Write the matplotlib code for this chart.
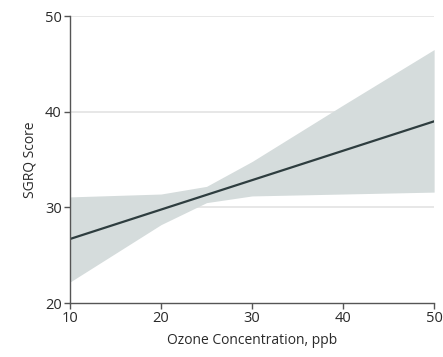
import matplotlib
matplotlib.use("Agg")
import matplotlib.pyplot as plt

ozone = [10, 50]
sgrq = [26.7, 39.0]
band_x = [10, 20, 25, 30, 40, 50]
band_upper = [31.1, 31.4, 32.2, 34.8, 40.7, 46.5]
band_lower = [22.2, 28.2, 30.5, 31.2, 31.4, 31.6]
xticks = [10, 20, 30, 40, 50]
yticks = [20, 30, 40, 50]

plt.rcParams['font.family'] = ['Open Sans', 'DejaVu Sans']
fig = plt.figure(figsize=(4.43, 3.57), dpi=100)
ax = fig.add_axes([0.158, 0.151, 0.822, 0.804])

for y in yticks[1:]:
    ax.axhline(y, color='#e3e3e3', lw=1.2, zorder=0)
ax.fill_between(band_x, band_lower, band_upper, color='#d5dcdc', lw=0, zorder=1)
ax.plot(ozone, sgrq, color='#2e3d3f', lw=1.6, zorder=2)

ax.set_xlim(10, 50)
ax.set_ylim(20, 50)
ax.set_xticks(xticks)
ax.set_yticks(yticks)
for s in ['top', 'right']:
    ax.spines[s].set_visible(False)
for s in ['left', 'bottom']:
    ax.spines[s].set_color('#555555')
    ax.spines[s].set_linewidth(1.0)
ax.tick_params(direction='out', length=4, width=1.0, color='#555555',
               labelsize=10.5, labelcolor='#2a2a2a', pad=2)
ax.set_xlabel('Ozone Concentration, ppb', fontsize=10, color='#2a2a2a', labelpad=5)
ax.set_ylabel('SGRQ Score', fontsize=10, color='#2a2a2a', labelpad=5)
fig.savefig('out.png', dpi=100)
